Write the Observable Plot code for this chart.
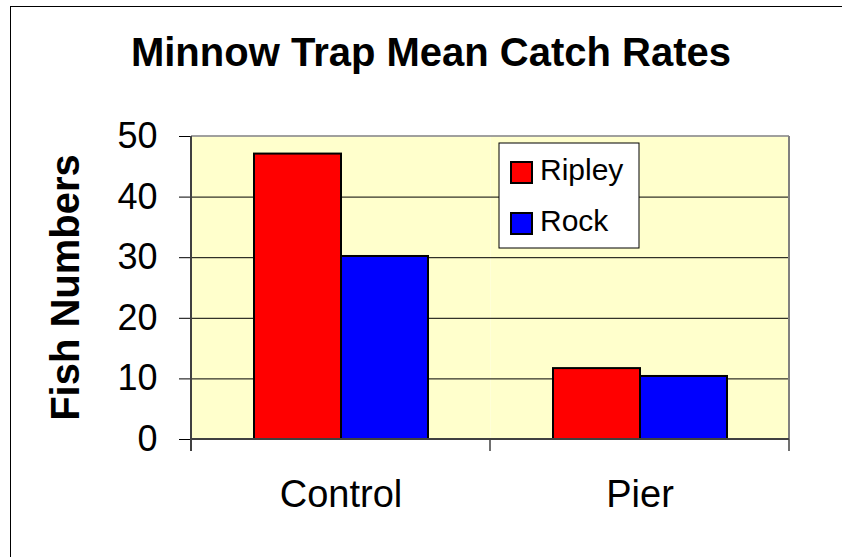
<!DOCTYPE html>
<html><head><meta charset="utf-8">
<script src="https://cdn.jsdelivr.net/npm/d3@7"></script>
<script src="https://cdn.jsdelivr.net/npm/@observablehq/plot@0.6"></script>
<style>
body{margin:0;background:#fff;overflow:hidden}
#wrap{position:relative;width:842px;height:557px;overflow:hidden;background:#fff}
#wrap svg{position:absolute;left:0;top:0}
#border{position:absolute;left:10px;top:6px;width:900px;height:700px;border:1.5px solid #000;pointer-events:none}
</style>
</head><body>
<div id="wrap"><div id="border"></div></div>
<script>
const title = "Minnow Trap Mean Catch Rates";
const yLabel = "Fish Numbers";
const categories = ["Control", "Pier"];
const series = ["Ripley", "Rock"];
const ripley = [47.1, 11.7];
const rock = [30.2, 10.4];
const colors = ["#FF0000", "#0000FF"];
const yTicks = [0, 10, 20, 30, 40, 50];

const values = [ripley, rock];
const data = categories.flatMap((c, i) => series.map((s, j) => ({category: c, series: s, value: values[j][i]})));
const FONT = "'Liberation Sans', Arial, sans-serif";

const chart = Plot.plot({
  width: 842, height: 557,
  marginLeft: 190, marginRight: 53, marginTop: 136, marginBottom: 118,
  style: {fontFamily: FONT, background: "transparent", color: "#000"},
  fx: {domain: categories, padding: 0, label: null, axis: null},
  x: {domain: series, paddingInner: 0, paddingOuter: 0.7, axis: null},
  y: {domain: [yTicks[0], yTicks[yTicks.length - 1]], axis: null},
  color: {domain: series, range: colors},
  marks: [
    Plot.frame({fill: "#FFFFCC"}),
    Plot.gridY(yTicks.slice(1, -1), {stroke: "#000", strokeOpacity: 1, strokeWidth: 1}),
    Plot.barY(data, {fx: "category", x: "series", y: "value", fill: "series", stroke: "#000", strokeWidth: 2}),
    Plot.axisY(yTicks, {tickSize: 12, tickPadding: 22, fontSize: 36, label: null, stroke: "#000", tickFormat: d => String(d)}),
    Plot.axisFx({anchor: "bottom", tickSize: 0, tickPadding: 41, fontSize: 38, label: null})
  ]
});

const wrap = document.getElementById("wrap");
wrap.insertBefore(chart, wrap.firstChild);

const svg = d3.select(chart);
const fx = chart.scale("fx");
const y = chart.scale("y");
const left = fx.apply(categories[0]);
const right = fx.apply(categories[categories.length - 1]) + fx.bandwidth;
const y0 = y.apply(yTicks[0]);
const yTop = y.apply(yTicks[yTicks.length - 1]);
const g = svg.append("g");
g.append("line").attr("x1", left).attr("x2", right).attr("y1", yTop).attr("y2", yTop).attr("stroke", "#808080").attr("stroke-width", 1.5);
g.append("line").attr("x1", right).attr("x2", right).attr("y1", yTop).attr("y2", y0).attr("stroke", "#808080").attr("stroke-width", 2);
g.append("line").attr("x1", left).attr("x2", right).attr("y1", y0).attr("y2", y0).attr("stroke", "#404040").attr("stroke-width", 2);
g.append("line").attr("x1", left).attr("x2", left).attr("y1", yTop).attr("y2", y0 + 12).attr("stroke", "#404040").attr("stroke-width", 2);
const bounds = categories.map(c => fx.apply(c)).concat([right]);
bounds.forEach(b => g.append("line").attr("x1", b).attr("x2", b).attr("y1", y0).attr("y2", y0 + 12).attr("stroke", "#404040").attr("stroke-width", 1.5));

// title
svg.append("text").attr("x", 431).attr("y", 66).attr("text-anchor", "middle")
  .attr("font-family", FONT).attr("font-weight", "bold").attr("font-size", 40).attr("fill", "#000").text(title);
// y label
svg.append("text").attr("transform", `translate(79,${(y0 + yTop) / 2}) rotate(-90)`).attr("text-anchor", "middle")
  .attr("font-family", FONT).attr("font-weight", "bold").attr("font-size", 40).attr("fill", "#000").text(yLabel);
// legend
const lg = svg.append("g").attr("transform", "translate(499,143)");
lg.append("rect").attr("width", 140).attr("height", 105).attr("fill", "#fff").attr("stroke", "#000").attr("stroke-width", 1);
series.forEach((s, i) => {
  const row = lg.append("g").attr("transform", `translate(12,${19 + i * 51})`);
  row.append("rect").attr("width", 21).attr("height", 21).attr("fill", colors[i]).attr("stroke", "#000").attr("stroke-width", 2);
  row.append("text").attr("x", 29).attr("y", 18).attr("text-anchor", "start").attr("font-family", FONT).attr("font-size", 30).attr("fill", "#000").text(s);
});
</script>
</body></html>
